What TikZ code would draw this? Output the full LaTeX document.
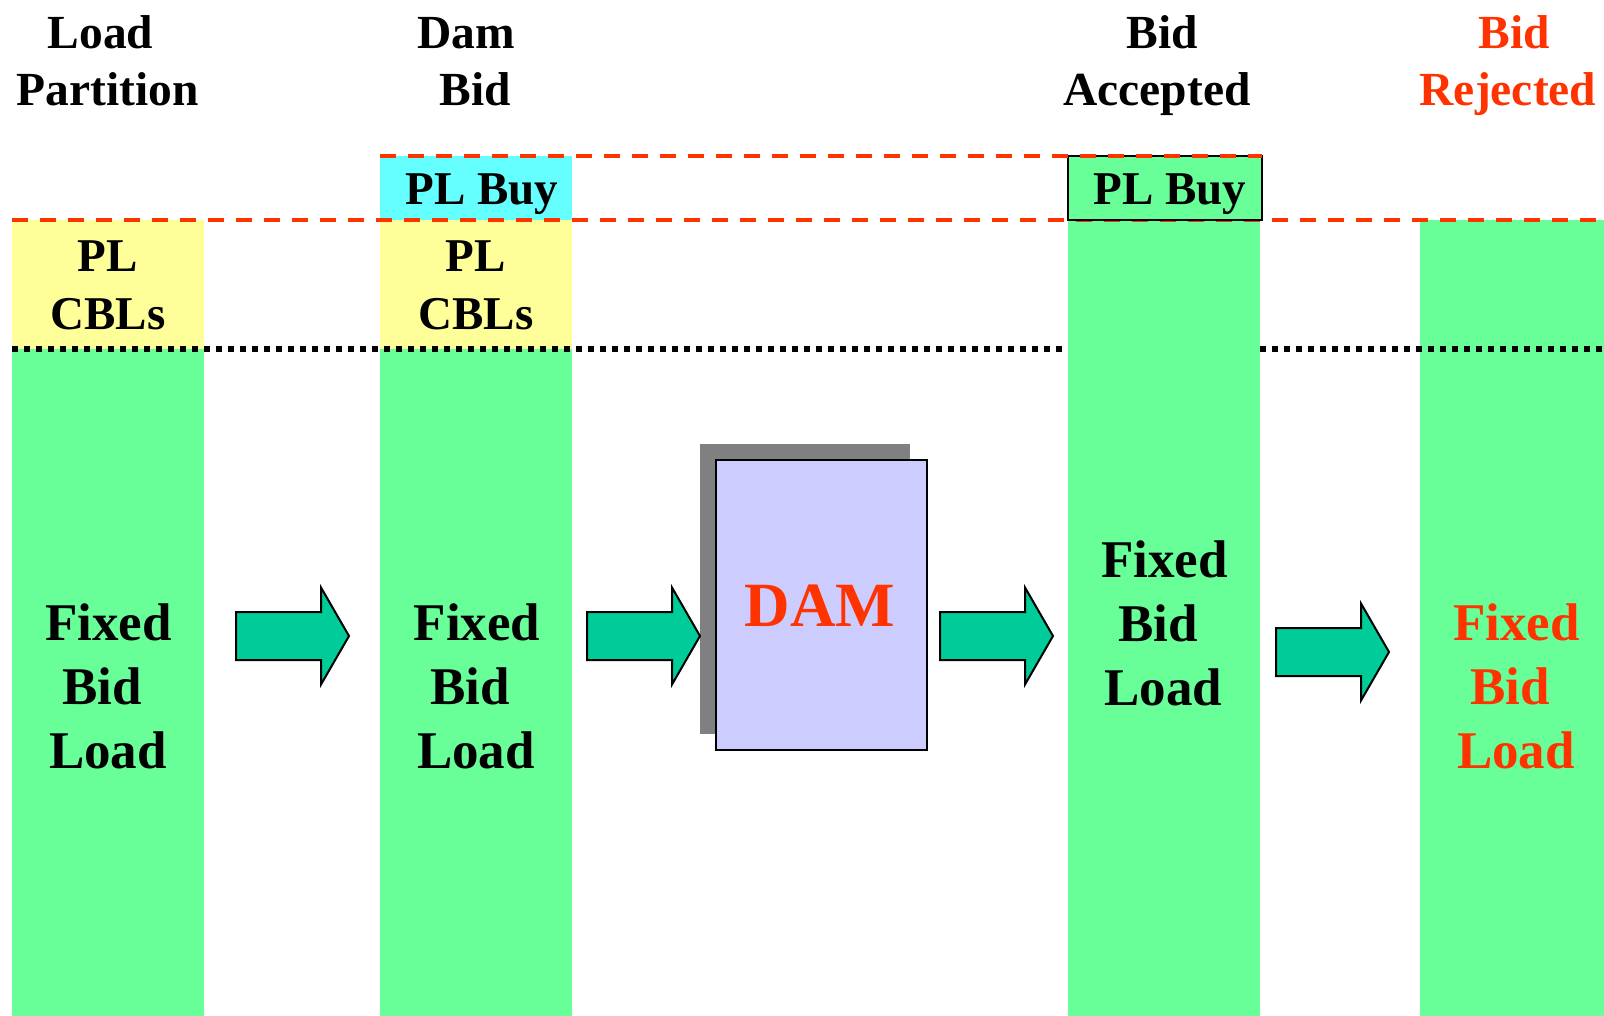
\documentclass[tikz,border=0pt]{standalone}
\usepackage{fontspec}
\setmainfont{Liberation Serif}
\definecolor{plgreen}{HTML}{68FF99}
\definecolor{plyel}{HTML}{FFFF99}
\definecolor{plcyan}{HTML}{66FFFF}
\definecolor{pllav}{HTML}{CCCCFF}
\definecolor{plteal}{HTML}{00CC99}
\definecolor{plred}{HTML}{FF3300}
\definecolor{plgray}{HTML}{808080}
\begin{document}
\begin{tikzpicture}[x=1pt,y=-1pt,
  hdr/.style={anchor=base,inner sep=0pt,font=\fontsize{47.5}{57}\selectfont\bfseries},
  pltxt/.style={anchor=base,inner sep=0pt,font=\fontsize{47}{57}\selectfont\bfseries},
  fbl/.style={anchor=base,inner sep=0pt,font=\fontsize{53}{64}\selectfont\bfseries},
  damtxt/.style={anchor=base,inner sep=0pt,font=\fontsize{63}{70}\selectfont\bfseries,text=plred},
  reddash/.style={draw=plred,line width=3.3pt,dash pattern=on 16pt off 12pt},
  blackdot/.style={draw=black,line width=6pt,dash pattern=on 6pt off 6pt},
  arrowstyle/.style={fill=plteal,draw=black,line width=2pt},
  blockarrow/.pic={\draw[arrowstyle] (0,-24) -- (85,-24) -- (85,-48.5) -- (113,0) -- (85,48.5) -- (85,24) -- (0,24) -- cycle;}
]
\useasboundingbox (0,0) rectangle (1604,1016);
\fill[white] (0,0) rectangle (1604,1016);

% headers
\node[hdr] (h1a) at (100.5,49) {Load};
\node[hdr] (h1b) at (108,106) {Partition};
\node[hdr] (h2a) at (466,49) {Dam};
\node[hdr] (h2b) at (475,106) {Bid};
\node[hdr] (h3a) at (1162,49) {Bid};
\node[hdr] (h3b) at (1157,106) {Accepted};
\node[hdr,text=plred] (h4a) at (1514,49) {Bid};
\node[hdr,text=plred] (h4b) at (1508,106) {Rejected};

% column 1
\fill[plyel] (12,220) rectangle (204,349);
\fill[plgreen] (12,349) rectangle (204,1016);
% column 2
\fill[plcyan] (380,156) rectangle (572,220);
\fill[plyel] (380,220) rectangle (572,349);
\fill[plgreen] (380,349) rectangle (572,1016);
% column 4
\fill[plgreen] (1420,220) rectangle (1604,1016);

% dotted line
\coordinate (dotL) at (12,349);
\coordinate (dotR) at (1604,349);
\draw[blackdot] (dotL) -- (dotR);

% column 3
\fill[plgreen] (1068,220) rectangle (1260,1016);

% lower dashed line
\coordinate (dashL) at (12,220);
\coordinate (dashR) at (1604,220);
\draw[reddash] (dashL) -- (dashR);

% PL Buy box column 3
\draw[fill=plgreen,line width=2pt] (1068,156) rectangle (1262,220);

% upper dashed line
\coordinate (udashL) at (380,156);
\coordinate (udashR) at (1262,156);
\draw[reddash] (udashL) -- (udashR);

% PL texts
\node[pltxt] (c1pl) at (108,272) {PL};
\node[pltxt] (c1cb) at (108,330) {CBLs};
\node[pltxt] (c2pl) at (475.5,272) {PL};
\node[pltxt] (c2cb) at (476,330) {CBLs};
\node[pltxt] (c2buy) at (482,205) {PL Buy};
\node[pltxt] (c3buy) at (1170,205) {PL Buy};

% Fixed Bid Load
\node[fbl] (f1a) at (108.5,640) {Fixed};
\node[fbl] (f1b) at (102,704) {Bid};
\node[fbl] (f1c) at (108,768) {Load};
\node[fbl] (f2a) at (477,640) {Fixed};
\node[fbl] (f2b) at (470,704) {Bid};
\node[fbl] (f2c) at (476,768) {Load};
\node[fbl] (f3a) at (1164.5,577) {Fixed};
\node[fbl] (f3b) at (1158,641) {Bid};
\node[fbl] (f3c) at (1163.5,705) {Load};
\node[fbl,text=plred] (f4a) at (1516.5,640) {Fixed};
\node[fbl,text=plred] (f4b) at (1510,704) {Bid};
\node[fbl,text=plred] (f4c) at (1516,768) {Load};

% DAM
\fill[plgray] (700,444) rectangle (910,734);
\draw[fill=pllav,line width=2pt] (716,460) rectangle (927,750);
\node[damtxt] (dam) at (820,626) {DAM};

% arrows
\pic (a1) at (236,636) {blockarrow};
\pic (a2) at (587,636) {blockarrow};
\pic (a3) at (940,636) {blockarrow};
\pic (a4) at (1276,652) {blockarrow};
\end{tikzpicture}
\end{document}
